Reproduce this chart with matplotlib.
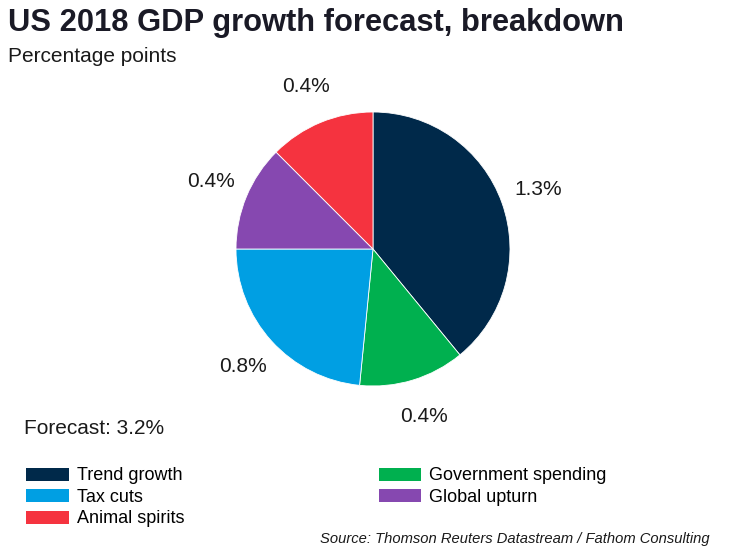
from decimal import Decimal, ROUND_HALF_UP

import matplotlib.pyplot as plt
from matplotlib.patches import Patch

# slice data, clockwise from 12 o'clock (percentage points, labels rounded to 0.1)
components = ['Trend growth', 'Government spending', 'Tax cuts', 'Global upturn', 'Animal spirits']
points = [1.25, 0.4, 0.75, 0.4, 0.4]
colours = ['#00294A', '#00B04F', '#009FE3', '#8648B0', '#F5333F']

# legend order as in the original (column-wise)
legend_order = ['Trend growth', 'Tax cuts', 'Animal spirits', 'Government spending', 'Global upturn']

plt.rcParams['font.family'] = ['Liberation Sans', 'DejaVu Sans']

W, H = 745, 550
fig = plt.figure(figsize=(W / 100, H / 100), dpi=100)
ax = fig.add_axes([0, 0, 1, 1])
ax.axis('off')

total = sum(points)


def pct_label(p):
    # turn the share back into percentage points, rounding half up like Excel
    v = Decimal(str(round(p * total / 100, 2)))
    return f'{v.quantize(Decimal("0.1"), rounding=ROUND_HALF_UP)}%'


wedges, texts, autotexts = ax.pie(points, colors=colours, startangle=90, counterclock=False,
                                  center=(373, H - 249), radius=137,
                                  autopct=pct_label, pctdistance=1.28,
                                  wedgeprops=dict(edgecolor='white', linewidth=0.6),
                                  textprops=dict(fontsize=15, color='#1a1a1a'))
ax.set_xlim(0, W)
ax.set_ylim(0, H)
ax.set_aspect('equal')

fig.text(8 / W, 1 - 8 / H, 'US 2018 GDP growth forecast, breakdown', fontsize=22.2,
         fontweight='bold', color='#1a1a26', va='top', ha='left')
fig.text(8 / W, 1 - 47 / H, 'Percentage points', fontsize=15, color='#1a1a1a', va='top', ha='left')
fig.text(24 / W, 1 - 419 / H, 'Forecast: 3.2%', fontsize=15, color='#1a1a1a', va='top', ha='left')

handles = [Patch(facecolor=colours[components.index(n)], label=n) for n in legend_order]
fig.legend(handles=handles, loc='upper left', bbox_to_anchor=(12 / W, 1 - 453 / H), ncol=2,
           frameon=False, fontsize=13, handlelength=2.33, handleheight=0.72,
           handletextpad=0.45, labelspacing=0.25, columnspacing=10.8, borderpad=0.3)

fig.text(710 / W, 1 - 539 / H, 'Source: Thomson Reuters Datastream / Fathom Consulting',
         fontsize=10.6, style='italic', color='#1a1a1a', va='center', ha='right')

fig.savefig('out.png', dpi=100)
